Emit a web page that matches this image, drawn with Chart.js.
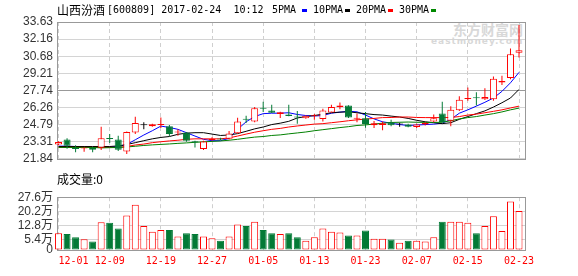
<!DOCTYPE html>
<html lang="zh">
<head>
<meta charset="UTF-8">
<title>山西汾酒 K线</title>
<script src="https://cdn.jsdelivr.net/npm/chart.js"></script>
<style>
  body { margin: 0; background: #fff; }
  #box { position: relative; width: 578px; height: 276px; overflow: hidden; }
  .txt { position: absolute; white-space: pre; color: #000; z-index: 2; }
  .cjk { font: 12px/12px "Noto Sans CJK SC", sans-serif; }
  .mono { font: 10px/12px "DejaVu Sans Mono", monospace; }
  .sq { position: absolute; width: 5px; height: 3px; top: 9px; z-index: 2; }
  .wm { position: absolute; color: #d8d8d8; z-index: 0; white-space: pre; }
  canvas { position: absolute; left: 0; z-index: 1; }
</style>
</head>
<body>
<div id="box">
  <div class="wm" style="left:453px;top:21px;font:bold 14px/16px 'Noto Sans CJK SC'">东方财富网</div>
  <div class="wm" style="left:431px;top:36px;font:bold 9px/10px 'DejaVu Sans';letter-spacing:1px">eastmoney.com</div>

  <div class="txt cjk" style="left:57px;top:4px">山西汾酒</div>
  <div class="txt mono" style="left:107px;top:4px">[600809] 2017-02-24  10:12</div>

  <div class="txt mono" style="left:272px;top:4px">5PMA</div><div class="sq" style="left:302px;background:#00f"></div>
  <div class="txt mono" style="left:313px;top:4px">10PMA</div><div class="sq" style="left:345px;background:#000"></div>
  <div class="txt mono" style="left:356px;top:4px">20PMA</div><div class="sq" style="left:388px;background:#f00"></div>
  <div class="txt mono" style="left:399px;top:4px">30PMA</div><div class="sq" style="left:431px;background:#080"></div>

  <div class="txt cjk" style="left:57px;top:173px">成交量:0</div>

  <canvas id="kChart" width="578" height="170" style="top:0"></canvas>
  <canvas id="vChart" width="578" height="90" style="top:186px"></canvas>
</div>

<script>
  // x-axis labels sit on every 6th candle
  const dateLabels = ['12-01', '12-09', '12-19', '12-27', '01-05', '01-13', '01-23', '02-07', '02-15', '02-23'];
  const labelIdx = [0, 6, 12, 18, 24, 30, 36, 42, 48, 54];

  const opens  = [23.07, 23.5, 22.7, 22.72, 22.8, 22.8, 23.6, 23.5, 22.47, 24.11,
                  24.73, 24.65, 24.75, 24.65, 24.1, 24.1, 23.35, 22.68, 23.45, 23.6,
                  23.56, 24.05, 25.3, 25.06, 26.25, 26.0, 25.7, 25.66, 25.45, 25.34,
                  25.5, 25.28, 25.83, 26.3, 26.43, 25.3, 25.34, 24.73, 24.75, 24.97,
                  24.8, 24.79, 24.57, 24.79, 25.06, 25.74, 25.12, 26.02, 27.0, 27.1,
                  26.97, 26.97, 28.41, 28.8, 30.98];
  const highs  = [23.35, 23.62, 23.0, 22.82, 22.85, 24.6, 23.97, 23.83, 24.2, 25.47,
                  25.0, 24.85, 25.4, 24.75, 24.38, 24.15, 23.4, 23.4, 23.7, 23.65,
                  24.24, 25.38, 25.55, 26.3, 26.75, 26.5, 25.9, 26.5, 25.95, 25.6,
                  25.7, 26.15, 26.5, 26.7, 26.45, 25.75, 25.88, 25.1, 25.05, 25.2,
                  24.95, 24.85, 24.85, 25.0, 25.66, 26.75, 26.37, 27.24, 27.98, 27.57,
                  27.92, 28.94, 29.0, 31.34, 33.38];
  const lows   = [23.0, 22.7, 22.4, 22.44, 22.4, 22.6, 23.2, 22.52, 22.25, 23.97,
                  24.38, 24.6, 24.5, 23.8, 23.82, 23.3, 22.82, 22.6, 23.4, 23.45,
                  23.5, 24.0, 24.93, 25.0, 25.88, 25.78, 25.35, 25.5, 24.85, 25.3,
                  25.2, 25.06, 25.8, 26.1, 25.35, 25.0, 24.52, 24.5, 24.3, 24.65,
                  24.6, 24.55, 24.5, 24.7, 25.0, 25.0, 24.65, 25.95, 26.84, 26.43,
                  26.9, 26.85, 28.2, 28.7, 30.58];
  const closes = [23.29, 22.96, 22.68, 22.8, 22.62, 23.62, 23.54, 22.63, 24.16, 24.93,
                  24.73, 24.81, 24.8, 23.97, 24.2, 23.4, 23.25, 23.34, 23.55, 23.5,
                  24.03, 25.06, 25.2, 26.2, 26.15, 25.8, 25.85, 25.52, 25.4, 25.55,
                  25.55, 26.0, 26.3, 26.43, 25.39, 25.38, 24.84, 24.9, 24.9, 24.73,
                  24.8, 24.6, 24.79, 24.93, 25.34, 25.01, 26.07, 26.92, 27.05, 27.05,
                  27.16, 28.74, 28.55, 30.85, 31.2];

  // 成交量, in 万
  const volumes = [8.8, 8.3, 6.6, 5.6, 4.5, 14.5, 14.2, 11.3, 18.0, 23.7,
                   12.6, 9.5, 10.5, 10.5, 7.1, 8.8, 8.4, 7.1, 6.2, 4.9,
                   7.1, 13.3, 12.6, 14.8, 10.5, 8.8, 8.3, 8.8, 6.6, 4.8,
                   6.6, 11.3, 9.5, 9.1, 7.6, 7.6, 10.2, 5.9, 5.9, 5.5,
                   3.8, 4.9, 4.9, 4.5, 6.6, 14.8, 14.8, 14.8, 14.2, 8.8,
                   12.6, 17.6, 9.9, 25.4, 20.4];

  // moving averages
  const ma5  = [22.93, 22.93, 22.9, 22.82, 22.82, 22.82, 22.86, 22.9, 23.07, 23.48,
                23.89, 24.26, 24.66, 24.54, 24.38, 24.09, 23.8, 23.52, 23.4, 23.4,
                23.6, 24.38, 25.03, 25.48, 25.73, 25.77, 25.77, 25.81, 25.66, 25.57,
                25.53, 25.57, 25.77, 25.86, 25.93, 25.89, 25.61, 25.28, 25.03, 24.91,
                24.79, 24.71, 24.75, 24.79, 24.83, 24.91, 25.24, 25.77, 26.06, 26.38,
                26.71, 27.08, 27.65, 28.39, 29.29];
  const ma10 = [22.9, 22.9, 22.9, 22.9, 22.9, 22.9, 22.9, 22.95, 23.07, 23.23,
                23.4, 23.56, 23.68, 23.76, 23.95, 24.05, 24.09, 24.09, 23.97, 23.85,
                23.89, 24.01, 24.21, 24.42, 24.58, 24.79, 24.91, 25.07, 25.36, 25.48,
                25.57, 25.69, 25.81, 25.86, 25.89, 25.81, 25.73, 25.65, 25.61, 25.52,
                25.44, 25.32, 25.16, 25.03, 24.95, 24.87, 24.95, 25.24, 25.48, 25.73,
                25.97, 26.3, 26.67, 27.08, 27.82];
  const ma20 = [22.82, 22.82, 22.82, 22.82, 22.82, 22.82, 22.82, 22.82, 22.9, 23.03,
                23.11, 23.23, 23.31, 23.38, 23.44, 23.52, 23.56, 23.56, 23.56, 23.56,
                23.64, 23.8, 23.97, 24.13, 24.26, 24.38, 24.46, 24.58, 24.67, 24.75,
                24.83, 24.87, 24.95, 25.03, 25.12, 25.2, 25.26, 25.32, 25.39, 25.4,
                25.44, 25.44, 25.4, 25.39, 25.39, 25.39, 25.4, 25.48, 25.61, 25.69,
                25.81, 25.93, 26.06, 26.22, 26.38];
  const ma30 = [22.82, 22.82, 22.82, 22.82, 22.82, 22.78, 22.8, 22.82, 22.86, 22.92,
                22.99, 23.04, 23.08, 23.12, 23.17, 23.21, 23.26, 23.3, 23.34, 23.38,
                23.44, 23.52, 23.62, 23.71, 23.76, 23.85, 23.9, 23.99, 24.07, 24.15,
                24.26, 24.35, 24.44, 24.53, 24.61, 24.71, 24.76, 24.83, 24.91, 24.97,
                24.99, 25.01, 24.99, 24.98, 24.97, 24.99, 25.12, 25.28, 25.39, 25.48,
                25.61, 25.73, 25.88, 26.06, 26.21];

  const priceTicks = [21.84, 23.31, 24.79, 26.26, 27.74, 29.21, 30.68, 32.16, 33.63];
  const volTicks = [0, 5.4, 12.8, 20.2, 27.6];

  const RED = '#ff0000';
  const GREEN = '#037a36';

  const dir = closes.map((c, i) => c > opens[i] ? 1 : (c < opens[i] ? -1 : 0));
  const stickColor = dir.map(d => d > 0 ? RED : (d < 0 ? GREEN : '#000'));
  const bodyFill = dir.map(d => d > 0 ? '#fff' : (d < 0 ? GREEN : '#000'));

  Chart.defaults.font.family = 'Liberation Sans';

  // grey box round the plot area
  const framePlugin = {
    id: 'frame',
    beforeDatasetsDraw(chart) {
      const a = chart.chartArea;
      const ctx = chart.ctx;
      const l = Math.round(a.left) + 0.5, r = Math.round(a.right) - 0.5;
      const t = Math.round(a.top) + 0.5, b = Math.round(a.bottom) + 0.5;
      ctx.save();
      ctx.strokeStyle = '#999';
      ctx.lineWidth = 1;
      ctx.strokeRect(l, t, r - l, b - t);
      ctx.restore();
    }
  };

  function xAxis(showLabels) {
    return {
      type: 'linear',
      min: -0.18,
      max: 54.82,
      offset: false,
      afterBuildTicks: s => { s.ticks = labelIdx.map(v => ({ value: v })); },
      grid: { color: '#cfcfcf', drawTicks: false, offset: false },
      border: { display: false, dash: [4, 3] },
      ticks: showLabels ? {
        display: true,
        autoSkip: false,
        maxRotation: 0,
        padding: 5,
        color: RED,
        font: { family: 'DejaVu Sans Mono', size: 10 },
        callback: (v, i) => i === 0 ? '     ' + dateLabels[i] : dateLabels[i]
      } : { display: false }
    };
  }

  const yTickFont = { family: "'Liberation Sans', 'Noto Sans CJK SC'", size: 12 };

  const common = {
    responsive: false,
    animation: false,
    events: [],
    plugins: { legend: { display: false }, tooltip: { enabled: false } }
  };

  function maLine(values, color) {
    return {
      type: 'line',
      data: values.map((v, i) => ({ x: i, y: v })),
      borderColor: color,
      borderWidth: 1,
      pointRadius: 0,
      tension: 0,
      order: 2
    };
  }

  new Chart(document.getElementById('kChart'), {
    type: 'bar',
    data: {
      datasets: [
        {
          data: opens.map((o, i) => ({ x: i, y: [o, closes[i]] })),
          backgroundColor: bodyFill,
          borderColor: stickColor,
          borderWidth: 1,
          borderSkipped: false,
          barThickness: 7,
          minBarLength: 1,
          inflateAmount: 0,
          grouped: false,
          clip: false,
          order: 0
        },
        {
          data: lows.map((l, i) => ({ x: i, y: [l, highs[i]] })),
          backgroundColor: stickColor,
          borderWidth: 0,
          barThickness: 1,
          inflateAmount: 0,
          grouped: false,
          clip: false,
          order: 1
        },
        maLine(ma30, '#008000'),
        maLine(ma20, RED),
        maLine(ma10, '#000'),
        maLine(ma5, '#0000ff')
      ]
    },
    options: {
      ...common,
      layout: { padding: { top: 22, right: 52, bottom: 4, left: 0 } },
      scales: {
        x: xAxis(false),
        y: {
          min: 21.84,
          max: 33.63,
          afterBuildTicks: s => { s.ticks = priceTicks.map(v => ({ value: v })); },
          afterFit: s => { s.width = 57; },
          ticks: { autoSkip: false, color: '#333', font: yTickFont, padding: 4, callback: v => v.toFixed(2) },
          grid: {
            drawTicks: false,
            color: c => (c.tick && c.tick.value === 27.74) ? '#999' : '#d4d4d4'
          },
          border: { display: false }
        }
      }
    },
    plugins: [framePlugin]
  });

  new Chart(document.getElementById('vChart'), {
    type: 'bar',
    data: {
      datasets: [{
        data: volumes.map((v, i) => ({ x: i, y: v })),
        backgroundColor: dir.map(d => d >= 0 ? '#fff' : GREEN),
        borderColor: dir.map(d => d >= 0 ? RED : GREEN),
        borderWidth: 1,
        borderSkipped: false,
        barThickness: 7,
        inflateAmount: 0,
        grouped: false,
        clip: false
      }]
    },
    options: {
      ...common,
      layout: { padding: { top: 5, right: 52, bottom: 4, left: 0 } },
      scales: {
        x: xAxis(true),
        y: {
          min: 0,
          max: 27.6,
          afterBuildTicks: s => { s.ticks = volTicks.map(v => ({ value: v })); },
          afterFit: s => { s.width = 57; },
          ticks: { autoSkip: false, color: '#333', font: yTickFont, padding: 4, callback: v => v === 0 ? '0' : v + '万' },
          grid: { drawTicks: false, color: '#d4d4d4' },
          border: { display: false }
        }
      }
    },
    plugins: [framePlugin]
  });
</script>
</body>
</html>
